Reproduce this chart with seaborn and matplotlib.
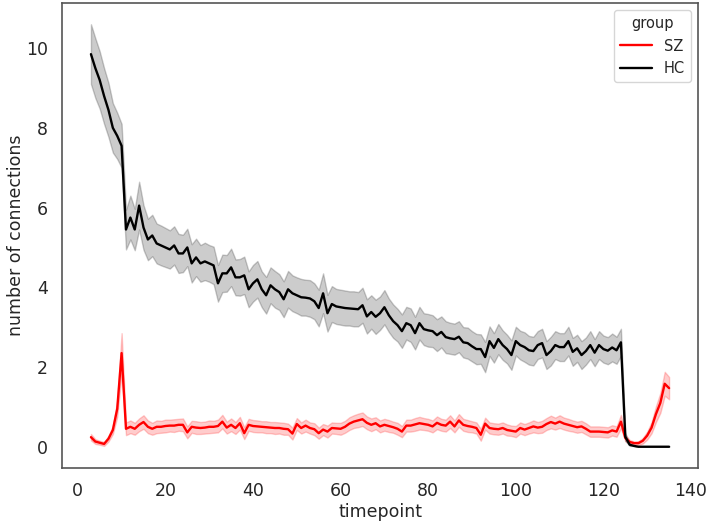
import numpy as np
import pandas as pd
import matplotlib
matplotlib.use("Agg")
import matplotlib.pyplot as plt
import seaborn as sns

sns.set_theme(style="white")
plt.rcParams['font.family'] = ['DejaVu Sans']

# timepoints 3..135
timepoints = list(range(3, 136))

# mean number of connections, healthy controls
hc_mean = [
    9.85, 9.5, 9.2, 8.8, 8.45, 8.0, 7.8, 7.55,                      # 3-10
    5.45, 5.75, 5.45, 6.05, 5.5, 5.2, 5.3, 5.1, 5.05, 5.0,            # 11-20
    4.95, 5.05, 4.85, 4.85, 5.0, 4.6, 4.75, 4.6, 4.65, 4.6,           # 21-30
    4.55, 4.1, 4.35, 4.35, 4.5, 4.25, 4.25, 4.3, 3.95, 4.1,           # 31-40
    4.2, 3.95, 3.8, 4.05, 3.95, 3.88, 3.7, 3.95, 3.85, 3.8,           # 41-50
    3.75, 3.74, 3.72, 3.65, 3.48, 3.85, 3.35, 3.58, 3.52, 3.5,        # 51-60
    3.48, 3.47, 3.46, 3.45, 3.55, 3.27, 3.38, 3.26, 3.35, 3.5,        # 61-70
    3.3, 3.15, 3.05, 2.9, 3.1, 3.05, 2.85, 3.1, 2.95, 2.92,           # 71-80
    2.9, 2.8, 2.88, 2.75, 2.72, 2.7, 2.76, 2.62, 2.6, 2.52,           # 81-90
    2.45, 2.45, 2.25, 2.65, 2.48, 2.7, 2.55, 2.45, 2.3, 2.65,         # 91-100
    2.55, 2.5, 2.42, 2.4, 2.55, 2.6, 2.3, 2.4, 2.55, 2.5,             # 101-110
    2.5, 2.65, 2.38, 2.47, 2.3, 2.4, 2.55, 2.36, 2.55, 2.45,          # 111-120
    2.41, 2.49, 2.42, 2.62, 0.25, 0.05, 0.02, 0.0, 0.0, 0.0,          # 121-130
    0.0, 0.0, 0.0, 0.0, 0.0,                                          # 131-135
]
# half width of the HC band
hc_err = [
    0.75, 0.75, 0.72, 0.7, 0.68, 0.62, 0.58, 0.55,
    0.5, 0.55, 0.52, 0.6, 0.56, 0.52, 0.52, 0.5, 0.5, 0.49,
    0.48, 0.48, 0.49, 0.47, 0.47, 0.48, 0.47, 0.46, 0.47, 0.46,
    0.47, 0.46, 0.47, 0.46, 0.47, 0.45, 0.46, 0.47, 0.45, 0.46,
    0.46, 0.45, 0.46, 0.45, 0.46, 0.45, 0.45, 0.46, 0.45, 0.45,
    0.46, 0.45, 0.46, 0.45, 0.46, 0.5, 0.46, 0.45, 0.44, 0.44,
    0.44, 0.43, 0.44, 0.43, 0.44, 0.43, 0.42, 0.43, 0.42, 0.43,
    0.42, 0.42, 0.41, 0.42, 0.41, 0.42, 0.41, 0.41, 0.4, 0.41,
    0.4, 0.4, 0.39, 0.4, 0.39, 0.39, 0.39, 0.38, 0.39, 0.38,
    0.38, 0.37, 0.38, 0.37, 0.37, 0.38, 0.37, 0.36, 0.37, 0.36,
    0.36, 0.37, 0.36, 0.36, 0.35, 0.36, 0.35, 0.36, 0.35, 0.35,
    0.35, 0.36, 0.35, 0.34, 0.35, 0.34, 0.35, 0.34, 0.35, 0.34,
    0.34, 0.35, 0.34, 0.34, 0.1, 0.03, 0.0, 0.0, 0.0, 0.0,
    0.0, 0.0, 0.0, 0.0, 0.0,
]

# mean number of connections, schizophrenia
sz_mean = [
    0.24, 0.13, 0.1, 0.07, 0.2, 0.42, 0.95, 2.35,                      # 3-10
    0.45, 0.5, 0.45, 0.55, 0.62, 0.5, 0.45, 0.5, 0.5, 0.52,            # 11-20
    0.53, 0.53, 0.55, 0.55, 0.36, 0.5, 0.48, 0.47, 0.48, 0.5,          # 21-30
    0.5, 0.52, 0.63, 0.48, 0.55, 0.47, 0.59, 0.34, 0.55, 0.52,         # 31-40
    0.51, 0.5, 0.49, 0.48, 0.47, 0.47, 0.45, 0.44, 0.33, 0.57,         # 41-50
    0.47, 0.53, 0.47, 0.44, 0.34, 0.43, 0.38, 0.47, 0.46, 0.45,        # 51-60
    0.5, 0.58, 0.63, 0.66, 0.69, 0.6, 0.55, 0.59, 0.51, 0.55,          # 61-70
    0.52, 0.49, 0.45, 0.38, 0.53, 0.53, 0.56, 0.59, 0.57, 0.55,        # 71-80
    0.51, 0.6, 0.55, 0.53, 0.63, 0.51, 0.66, 0.55, 0.52, 0.5,          # 81-90
    0.47, 0.3, 0.58, 0.47, 0.45, 0.44, 0.47, 0.42, 0.4, 0.38,          # 91-100
    0.47, 0.43, 0.47, 0.51, 0.48, 0.5, 0.57, 0.62, 0.58, 0.63,         # 101-110
    0.58, 0.55, 0.52, 0.49, 0.51, 0.45, 0.38, 0.38, 0.38, 0.37,        # 111-120
    0.36, 0.41, 0.38, 0.63, 0.22, 0.12, 0.09, 0.09, 0.15, 0.28,        # 121-130
    0.48, 0.82, 1.1, 1.58, 1.47,                                       # 131-135
]
# half width of the SZ band
sz_err = [
    0.08, 0.06, 0.05, 0.05, 0.07, 0.1, 0.2, 0.5,
    0.16, 0.16, 0.15, 0.16, 0.17, 0.16, 0.15, 0.16, 0.15, 0.16,
    0.15, 0.16, 0.15, 0.16, 0.15, 0.15, 0.16, 0.15, 0.15, 0.16,
    0.15, 0.16, 0.17, 0.15, 0.16, 0.15, 0.16, 0.15, 0.15, 0.15,
    0.15, 0.14, 0.15, 0.14, 0.15, 0.14, 0.15, 0.14, 0.15, 0.15,
    0.14, 0.15, 0.14, 0.15, 0.14, 0.14, 0.15, 0.14, 0.14, 0.15,
    0.15, 0.16, 0.16, 0.17, 0.17, 0.16, 0.16, 0.15, 0.15, 0.15,
    0.15, 0.14, 0.15, 0.14, 0.15, 0.15, 0.16, 0.16, 0.15, 0.15,
    0.15, 0.16, 0.15, 0.15, 0.16, 0.15, 0.16, 0.15, 0.15, 0.14,
    0.14, 0.15, 0.15, 0.14, 0.14, 0.14, 0.14, 0.14, 0.13, 0.14,
    0.14, 0.14, 0.14, 0.15, 0.14, 0.15, 0.15, 0.16, 0.15, 0.16,
    0.15, 0.15, 0.14, 0.14, 0.14, 0.14, 0.13, 0.13, 0.13, 0.13,
    0.13, 0.13, 0.13, 0.17, 0.08, 0.05, 0.04, 0.05, 0.07, 0.1,
    0.14, 0.2, 0.25, 0.3, 0.28,
]

# long-form table: lower edge, mean and upper edge per timepoint
rows = []
for grp, means, errs in [("SZ", sz_mean, sz_err), ("HC", hc_mean, hc_err)]:
    for t, m, e in zip(timepoints, means, errs):
        for v in (m - e, m, m + e):
            rows.append({"timepoint": t, "number of connections": v, "group": grp})
df = pd.DataFrame(rows)

fig, ax = plt.subplots(figsize=(7.09, 5.21), dpi=100)
sns.lineplot(data=df, x="timepoint", y="number of connections", hue="group",
             hue_order=["SZ", "HC"], palette={"SZ": "red", "HC": "black"},
             errorbar=lambda v: (v.min(), v.max()), linewidth=1.7,
             err_kws={"alpha": 0.2, "linewidth": 1}, ax=ax)

ax.set_xlabel("timepoint", fontsize=12.5, labelpad=2)
ax.set_ylabel("number of connections", fontsize=12.5, labelpad=1)
ax.tick_params(labelsize=12.5, pad=4)
ax.set_xticks([0, 20, 40, 60, 80, 100, 120, 140])
ax.set_yticks([0, 2, 4, 6, 8, 10])
for s in ax.spines.values():
    s.set_color("#555555")
    s.set_linewidth(1.2)

leg = ax.legend(title="group", loc="upper right", fontsize=10.5, title_fontsize=10.5,
                handlelength=2.2)

plt.subplots_adjust(left=0.0875, right=0.9845, top=0.994, bottom=0.102)
plt.savefig("out.png", dpi=100)
plt.close()
